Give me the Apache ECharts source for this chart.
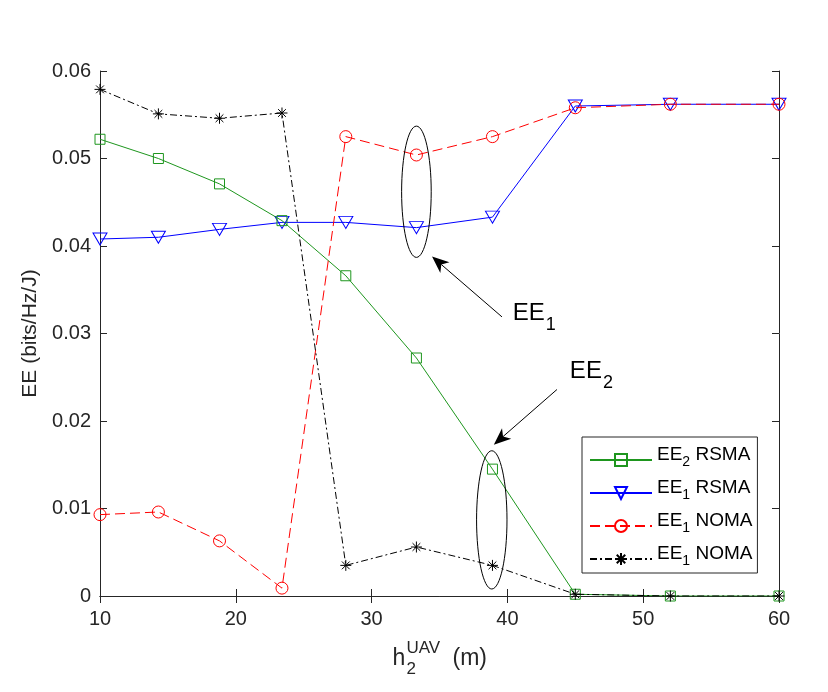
<!DOCTYPE html>
<html>
<head>
<meta charset="utf-8">
<script src="https://cdn.jsdelivr.net/npm/echarts@6/dist/echarts.min.js"></script>
<style>
html, body { margin: 0; background: #fff; }
#main { width: 828px; height: 692px; }
</style>
</head>
<body>
<div id="main"></div>
<script>
// h2 UAV height (m)
var heights = [10, 14.3, 18.8, 23.4, 28.1, 33.3, 38.9, 45, 52, 60];
var ee2Rsma = [0.0522, 0.0500, 0.0471, 0.0429, 0.0366, 0.0272, 0.0145, 0.0002, 0, 0];
var ee1Rsma = [0.0408, 0.0410, 0.0419, 0.0427, 0.0427, 0.0421, 0.0433, 0.0560, 0.0562, 0.0562];
var ee1Noma = [0.0093, 0.0096, 0.0063, 0.0009, 0.0525, 0.0504, 0.0525, 0.0558, 0.0562, 0.0562];
var ee1NomaB = [0.0579, 0.0551, 0.0546, 0.0552, 0.0035, 0.0056, 0.0035, 0.0002, 0, 0];
var xTicks = [10, 20, 30, 40, 50, 60];
var yTicks = [0, 0.01, 0.02, 0.03, 0.04, 0.05, 0.06];

// annotations in data units
var ellipses = [
  { x: 33.3, y: 0.0462, rx: 1.09, ry: 0.0075 },
  { x: 38.85, y: 0.0087, rx: 1.12, ry: 0.0079 }
];
var arrows = [
  { from: [39.6, 0.0319], to: [34.45, 0.0388], label: '1', textAt: [40.4, 0.0314] },
  { from: [43.65, 0.0236], to: [39.0, 0.0173], label: '2', textAt: [44.6, 0.0248] }
];

var FONT = '"Liberation Sans", Arial, Helvetica, sans-serif';
var AXIS = '#262626';
var GREEN = '#1e961e';

function pairs(ys) {
  return heights.map(function (h, i) { return [h, ys[i]]; });
}

var legendLabels = {
  'EE2 RSMA': '{a|EE}{s|2}{a| RSMA}',
  'EE1 RSMA': '{a|EE}{s|1}{a| RSMA}',
  'EE1 NOMA': '{a|EE}{s|1}{a| NOMA}',
  'EE1 NOMA ': '{a|EE}{s|1}{a| NOMA}'
};

var chart = echarts.init(document.getElementById('main'));

var boxAxis = {
  axisLine: { show: true, lineStyle: { color: AXIS, width: 1 } },
  axisTick: { show: true, inside: true, length: 7, lineStyle: { color: AXIS } },
  splitLine: { show: false }
};

var option = {
  animation: false,
  backgroundColor: '#fff',
  grid: { left: 100, right: 49, top: 71, bottom: 96 },
  xAxis: [
    Object.assign({
      type: 'value', min: 10, max: 60, interval: 10,
      axisLabel: { color: AXIS, fontSize: 20, fontFamily: FONT, margin: 13 }
    }, boxAxis),
    Object.assign({
      type: 'value', position: 'top', min: 10, max: 60, interval: 10,
      axisLabel: { show: false }
    }, boxAxis)
  ],
  yAxis: [
    Object.assign({
      type: 'value', min: 0, max: 0.06, interval: 0.01,
      name: 'EE (bits/Hz/J)', nameLocation: 'middle', nameGap: 56, nameRotate: 90,
      nameTextStyle: { color: AXIS, fontSize: 21, fontFamily: FONT },
      axisLabel: {
        color: AXIS, fontSize: 20, fontFamily: FONT, margin: 9,
        formatter: function (v) { return v === 0 ? '0' : v.toFixed(2); }
      }
    }, boxAxis),
    Object.assign({
      type: 'value', position: 'right', min: 0, max: 0.06, interval: 0.01,
      axisLabel: { show: false }
    }, boxAxis)
  ],
  legend: {
    orient: 'vertical',
    left: 582, top: 437,
    padding: [2, 5, 4, 7],
    itemWidth: 62, itemHeight: 15, itemGap: 2,
    borderColor: AXIS, borderWidth: 1, borderRadius: 0,
    backgroundColor: '#fff',
    selectedMode: false,
    data: ['EE2 RSMA', 'EE1 RSMA', 'EE1 NOMA', 'EE1 NOMA '],
    formatter: function (n) { return legendLabels[n]; },
    textStyle: {
      color: '#000', fontFamily: FONT,
      rich: {
        a: { fontSize: 19, fontFamily: FONT, color: '#000', lineHeight: 20, padding: [6, 0, 6, 0], verticalAlign: 'bottom' },
        s: { fontSize: 14, fontFamily: FONT, color: '#000', lineHeight: 14, padding: [0, 0, 1, 0], verticalAlign: 'bottom' }
      }
    }
  },
  series: [
    {
      name: 'EE2 RSMA', type: 'line', data: pairs(ee2Rsma), z: 4,
      symbol: 'rect', symbolSize: 10,
      lineStyle: { color: GREEN, width: 1 },
      itemStyle: { color: 'none', borderColor: GREEN, borderWidth: 1 },
      emphasis: { disabled: true }
    },
    {
      name: 'EE1 RSMA', type: 'line', data: pairs(ee1Rsma), z: 3,
      symbol: 'triangle', symbolRotate: 180, symbolSize: [14, 12],
      lineStyle: { color: '#0000ff', width: 1 },
      itemStyle: { color: 'none', borderColor: '#0000ff', borderWidth: 1 },
      emphasis: { disabled: true }
    },
    {
      name: 'EE1 NOMA', type: 'line', data: pairs(ee1Noma), z: 5,
      symbol: 'circle', symbolSize: 12,
      lineStyle: { color: '#ff0000', width: 1, type: [10, 5] },
      itemStyle: { color: 'none', borderColor: '#ff0000', borderWidth: 1 },
      emphasis: { disabled: true }
    },
    {
      name: 'EE1 NOMA ', type: 'line', data: pairs(ee1NomaB), z: 6,
      symbol: 'path://M0,-10L0,10M-10,0L10,0M-7.07,-7.07L7.07,7.07M-7.07,7.07L7.07,-7.07',
      symbolSize: 11,
      lineStyle: { color: '#000', width: 1, type: [7, 3, 2, 3] },
      itemStyle: { color: 'none', borderColor: '#000', borderWidth: 1 },
      emphasis: { disabled: true }
    }
  ]
};

chart.setOption(option);

// annotations: ellipses, arrows, labels, x axis name
function px(p) { return chart.convertToPixel({ gridIndex: 0 }, p); }

var graphics = [];
ellipses.forEach(function (e) {
  var c = px([e.x, e.y]);
  var r = px([e.x + e.rx, e.y + e.ry]);
  graphics.push({
    type: 'ellipse',
    shape: { cx: c[0], cy: c[1], rx: r[0] - c[0], ry: c[1] - r[1] },
    style: { fill: 'none', stroke: '#000', lineWidth: 1 },
    z: 10
  });
});

arrows.forEach(function (a) {
  var s = px(a.from), t = px(a.to);
  var dx = t[0] - s[0], dy = t[1] - s[1];
  var len = Math.sqrt(dx * dx + dy * dy);
  var ux = dx / len, uy = dy / len;
  var nx = -uy, ny = ux;
  var L = 17, W = 7;
  var bx = t[0] - ux * L, by = t[1] - uy * L;
  var mx = t[0] - ux * L * 0.72, my = t[1] - uy * L * 0.72;
  graphics.push({
    type: 'line',
    shape: { x1: s[0], y1: s[1], x2: mx, y2: my },
    style: { stroke: '#000', lineWidth: 1 },
    z: 10
  });
  graphics.push({
    type: 'polygon',
    shape: { points: [[t[0], t[1]], [bx + nx * W, by + ny * W], [mx, my], [bx - nx * W, by - ny * W]] },
    style: { fill: '#000' },
    z: 10
  });
  var tp = px(a.textAt);
  graphics.push({
    type: 'text',
    x: tp[0], y: tp[1],
    style: {
      text: '{a|EE}{s|' + a.label + '}',
      verticalAlign: 'middle', align: 'left',
      rich: {
        a: { fontSize: 24, fontFamily: FONT, fill: '#000', lineHeight: 26, padding: [9, 0, 9, 0], verticalAlign: 'bottom' },
        s: { fontSize: 18, fontFamily: FONT, fill: '#000', lineHeight: 18, padding: [0, 0, 0, 1], verticalAlign: 'bottom' }
      }
    },
    z: 10
  });
});

// x axis name: h with subscript 2 and superscript UAV
var cx = px([35, 0])[0];
var by = px([35, 0])[1];
graphics.push(
  { type: 'text', x: cx - 47, y: by + 74, style: { text: 'h', font: '23px ' + FONT, fill: AXIS, verticalAlign: 'bottom' }, z: 10 },
  { type: 'text', x: cx - 33, y: by + 61, style: { text: 'UAV', font: '17px ' + FONT, fill: AXIS, verticalAlign: 'bottom' }, z: 10 },
  { type: 'text', x: cx - 33, y: by + 82, style: { text: '2', font: '17px ' + FONT, fill: AXIS, verticalAlign: 'bottom' }, z: 10 },
  { type: 'text', x: cx + 13, y: by + 74, style: { text: '(m)', font: '23px ' + FONT, fill: AXIS, verticalAlign: 'bottom' }, z: 10 }
);

chart.setOption({ graphic: graphics });
</script>
</body>
</html>
